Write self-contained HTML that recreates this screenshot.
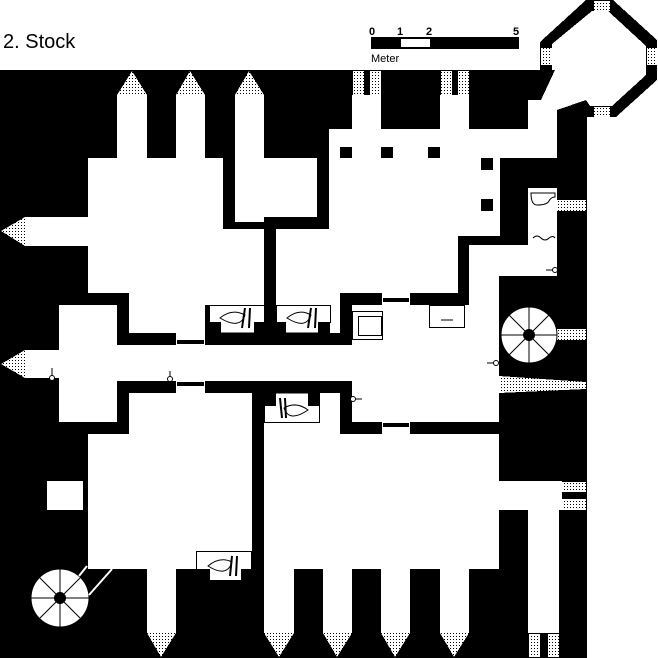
<!DOCTYPE html>
<html><head><meta charset="utf-8"><style>
html,body{margin:0;padding:0;background:#fff;width:658px;height:658px;overflow:hidden}
svg{display:block}
text{font-family:"Liberation Sans",sans-serif}
</style></head><body>
<svg width="658" height="658" viewBox="0 0 658 658" xmlns="http://www.w3.org/2000/svg" shape-rendering="crispEdges">
<defs>
<pattern id="d" width="3" height="3" patternUnits="userSpaceOnUse"><rect width="3" height="3" fill="#fff"/><rect width="1" height="1" fill="#000"/></pattern>
</defs>
<rect width="658" height="658" fill="#fff"/>
<text x="3" y="48" font-size="20" fill="#000">2. Stock</text>
<rect x="371" y="37" width="148" height="12" fill="#000"/>
<rect x="401" y="39" width="29" height="8" fill="#fff"/>
<g font-size="11" font-weight="bold"><text x="369" y="35">0</text><text x="397" y="35">1</text><text x="426" y="35">2</text><text x="513" y="35">5</text></g>
<text x="371" y="62" font-size="11">Meter</text>

<rect x="0" y="70" width="587" height="588" fill="#000"/>
<polygon points="540,42 586,0 613,0 657,40 657,80 616,117 586,117 586,70 540,70" fill="#000"/>
<g fill="#fff">
<polygon points="552,44 592,11 608,11 646,46 646,75 612,106 590,106 586,100 557,110 557,158 528,158 528,100 541,100 555,70 552,70"/>
<rect x="88" y="158" width="135" height="71"/>
<rect x="88" y="229" width="176" height="64"/>
<rect x="129" y="293" width="76" height="40"/>
<rect x="205" y="293" width="59" height="12"/>
<rect x="117" y="95" width="30" height="63"/>
<rect x="176" y="95" width="29" height="63"/>
<rect x="25" y="217" width="63" height="29"/>
<rect x="235" y="95" width="29" height="127"/>
<rect x="235" y="158" width="82" height="59"/>
<rect x="276" y="229" width="182" height="64"/>
<rect x="276" y="293" width="64" height="12"/>
<rect x="329" y="129" width="199" height="29"/>
<rect x="329" y="158" width="171" height="78"/>
<rect x="352" y="95" width="29" height="34"/>
<rect x="440" y="95" width="29" height="34"/>
<rect x="528" y="188" width="29" height="88"/>
<rect x="469" y="245" width="59" height="31"/>
<rect x="469" y="245" width="30" height="100"/>
<rect x="330" y="305" width="10" height="28"/>
<rect x="25" y="350" width="34" height="28"/>
<rect x="59" y="305" width="58" height="117"/>
<rect x="59" y="345" width="440" height="36"/>
<rect x="352" y="305" width="147" height="117"/>
<rect x="129" y="393" width="123" height="41"/>
<rect x="88" y="434" width="164" height="135"/>
<rect x="47" y="481" width="36" height="29"/>
<rect x="264" y="405" width="76" height="29"/>
<rect x="320" y="393" width="20" height="12"/>
<rect x="264" y="434" width="235" height="135"/>
<rect x="499" y="481" width="63" height="29"/>
<rect x="528" y="510" width="31" height="123"/>
<rect x="147" y="569" width="29" height="64"/>
<rect x="264" y="569" width="30" height="64"/>
<rect x="323" y="569" width="29" height="64"/>
<rect x="381" y="569" width="29" height="64"/>
<rect x="440" y="569" width="29" height="64"/>
<rect x="176" y="333" width="29" height="12"/>
<rect x="176" y="381" width="29" height="12"/>
<rect x="382" y="293" width="28" height="12"/>
<rect x="382" y="422" width="28" height="12"/>
</g>
<g fill="#000">
<rect x="236" y="223" width="27" height="4"/>
<rect x="177" y="340" width="27" height="4"/>
<rect x="177" y="382" width="27" height="4"/>
<rect x="383" y="298" width="26" height="4"/>
<rect x="383" y="423" width="26" height="4"/>
<rect x="84" y="482" width="3" height="27"/>
</g>
<g fill="#000">
<rect x="340" y="147" width="12" height="11"/>
<rect x="381" y="147" width="12" height="11"/>
<rect x="428" y="147" width="12" height="11"/>
<rect x="481" y="158" width="12" height="12"/>
<rect x="481" y="199" width="12" height="12"/>
</g>
<g fill="url(#d)">
<polygon points="117,95 132,71 147,95"/>
<polygon points="176,95 190,71 205,95"/>
<polygon points="235,95 249,71 264,95"/>
<polygon points="25,217 1,231 25,246"/>
<polygon points="25,350 1,364 25,378"/>
<polygon points="147,633 161,657 176,633"/>
<polygon points="264,633 279,657 294,633"/>
<polygon points="323,633 337,657 352,633"/>
<polygon points="381,633 395,657 410,633"/>
<polygon points="440,633 454,657 469,633"/>
<rect x="353" y="71" width="11" height="24"/><rect x="370" y="71" width="11" height="24"/>
<rect x="441" y="71" width="11" height="24"/><rect x="458" y="71" width="11" height="24"/>
<rect x="594" y="1" width="16" height="10"/><rect x="594" y="107" width="16" height="10"/>
<rect x="541" y="48" width="11" height="17"/><rect x="647" y="48" width="10" height="17"/>
<rect x="557" y="200" width="29" height="11"/>
<rect x="556" y="329" width="30" height="11"/>
<polygon points="499,376 586,382 586,389 499,393"/>
<rect x="562" y="482" width="24" height="10"/><rect x="562" y="499" width="24" height="11"/>
<rect x="529" y="634" width="11" height="23"/><rect x="548" y="634" width="11" height="23"/>
</g>
<g fill="#fff" stroke="#000" stroke-width="1" shape-rendering="auto">
<path d="M209.5,305.5 H264.5 V322.5 H254.5 V333 H220.5 V322.5 H209.5Z"/>
<path d="M276.5,305.5 H330.5 V322.5 H318.5 V333 H285.5 V322.5 H276.5Z"/>
<path d="M264.5,422.5 H319.5 V405.5 H308.5 V393 H275.5 V405.5 H264.5Z"/>
<path d="M196.5,551.5 H251.5 V569.5 H241.5 V580.5 H209.5 V569.5 H196.5Z"/>
<rect x="352.5" y="311.5" width="30" height="28"/>
<rect x="358.5" y="316.5" width="23" height="19"/>
<rect x="429.5" y="305.5" width="35" height="22"/>
<path d="M220,318 Q232,308 245,315 Q240,330 220,318Z"/>
<path d="M287,318 Q299,308 311,315 Q306,330 287,318Z"/>
<path d="M308,410 Q296,401 284,408 Q289,423 308,410Z"/>
<path d="M208,566 Q220,556 232,562 Q227,578 208,566Z"/>
<path d="M531,193 h24 v4 q-4,0 -6,4 q-2,4 -12,4 q-6,0 -6,-12Z"/>
<circle cx="60" cy="598" r="29"/>
<circle cx="529" cy="335" r="28"/>
</g>
<g stroke="#000" stroke-width="2" fill="none" shape-rendering="auto">
<path d="M245,308 L242,328 M250,308 L249,328 M311,308 L308,328 M316,308 L315,328 M280,398 L282,418 M285,398 L286,418 M232,556 L230,576 M237,556 L236,576"/>
<path d="M533,238 q4,-4 8,0 q4,4 8,0 q4,-3 6,0" stroke-width="1"/>
<path d="M441,320 h12" stroke-width="1"/>
</g>
<g stroke="#000" stroke-width="1" shape-rendering="auto">
<path d="M60,569 V627 M31,598 H89 M40,578 L80,618 M80,578 L40,618"/>
<path d="M529,307 V363 M501,335 H557 M509,315 L549,355 M549,315 L509,355"/>
</g>
<circle cx="60" cy="598" r="6" fill="#000"/>
<circle cx="529" cy="335" r="6" fill="#000"/>
<g stroke="#fff" stroke-width="2" shape-rendering="auto">
<line x1="87" y1="566" x2="79" y2="576"/><line x1="112" y1="569" x2="89" y2="595"/>
</g>
<g stroke="#000" fill="#fff" stroke-width="1" shape-rendering="auto">
<line x1="52" y1="368" x2="52" y2="376"/><circle cx="52" cy="378" r="2.5"/>
<line x1="170" y1="371" x2="170" y2="376"/><circle cx="170" cy="379" r="2.5"/>
<line x1="487" y1="363" x2="494" y2="363"/><circle cx="496" cy="363" r="2.5"/>
<line x1="355" y1="399" x2="362" y2="399"/><circle cx="353" cy="399" r="2.5"/>
<line x1="546" y1="270" x2="553" y2="270"/><circle cx="555" cy="270" r="2.5"/>
</g>
</svg>
</body></html>
